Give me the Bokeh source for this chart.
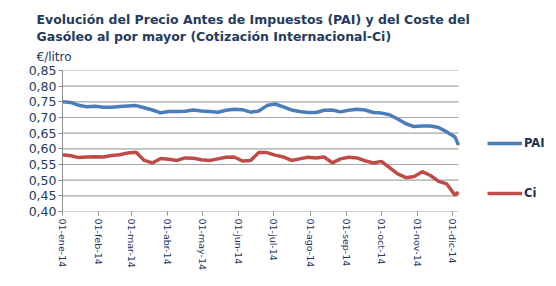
import datetime as dt
from bokeh.plotting import figure
from bokeh.models import (ColumnDataSource, Range1d, FixedTicker, CustomJSTickFormatter,
                          Title, Legend, LegendItem)
from bokeh.embed import file_html
from bokeh.resources import INLINE

# ---- data ----
start = dt.datetime(2014, 1, 1)
dates = [start + dt.timedelta(days=7 * k) for k in range(49)] + [dt.datetime(2014, 12, 6)]

pai = [0.750, 0.748, 0.739, 0.734, 0.736, 0.733, 0.733, 0.735, 0.737, 0.738,
       0.731, 0.724, 0.715, 0.719, 0.719, 0.720, 0.724, 0.721, 0.719, 0.717,
       0.723, 0.726, 0.725, 0.717, 0.721, 0.738, 0.743, 0.734, 0.724, 0.719,
       0.716, 0.716, 0.723, 0.724, 0.718, 0.723, 0.726, 0.724, 0.716, 0.714,
       0.709, 0.695, 0.680, 0.671, 0.673, 0.673, 0.668, 0.654, 0.638, 0.612]

ci = [0.581, 0.578, 0.572, 0.574, 0.575, 0.574, 0.579, 0.581, 0.587, 0.589,
      0.563, 0.555, 0.569, 0.567, 0.563, 0.571, 0.570, 0.565, 0.563, 0.568,
      0.573, 0.574, 0.561, 0.563, 0.588, 0.588, 0.580, 0.574, 0.563, 0.568,
      0.573, 0.571, 0.574, 0.555, 0.568, 0.573, 0.571, 0.562, 0.555, 0.560,
      0.540, 0.520, 0.508, 0.512, 0.527, 0.515, 0.496, 0.488, 0.452, 0.462]

tick_dates = [dt.datetime(2014, m, 1) for m in range(1, 13)]
tick_labels = ["01-ene-14", "01-feb-14", "01-mar-14", "01-abr-14", "01-may-14", "01-jun-14",
               "01-jul-14", "01-ago-14", "01-sep-14", "01-oct-14", "01-nov-14", "01-dic-14"]
y_ticks = [0.40, 0.45, 0.50, 0.55, 0.60, 0.65, 0.70, 0.75, 0.80, 0.85]

title1 = "Evolución del Precio Antes de Impuestos (PAI) y del Coste del"
title2 = "Gasóleo al por mayor (Cotización Internacional-Ci)"
unit_label = "€/litro"

# ---- figure ----
def ms(d):
    return (d - dt.datetime(1970, 1, 1)).total_seconds() * 1000.0

x_start = dt.datetime(2014, 1, 1)
x_end = dt.datetime(2014, 12, 6)          # end of the plotted axis
plot_px = 396.0                           # width of the drawn axis area
frame_px = 556.0 - 62.0                   # frame extends under the legend
span_ms = ms(x_end) - ms(x_start)
view_end = ms(x_start) + span_ms * frame_px / plot_px

src = ColumnDataSource(dict(x=dates, pai=pai, ci=ci))

p = figure(width=556, height=286, output_backend="svg", toolbar_location=None,
           x_axis_type="datetime",
           x_range=Range1d(ms(x_start), view_end),
           y_range=Range1d(0.40, 0.85),
           min_border_left=62, min_border_right=0, min_border_bottom=75, min_border_top=70)
p.border_fill_color = None
p.background_fill_color = None

text_color = "#1F3864"
title_color = "#243B5E"

p.add_layout(Title(text=unit_label, text_font="DejaVu Sans", text_font_size="12px",
                   text_font_style="normal", text_color=text_color, align="left",
                   offset=-26, standoff=14), "above")
p.add_layout(Title(text=title2, text_font="DejaVu Sans", text_font_size="12.5px",
                   text_font_style="bold", text_color=title_color, align="left",
                   offset=-26, standoff=-6), "above")
p.add_layout(Title(text=title1, text_font="DejaVu Sans", text_font_size="12.5px",
                   text_font_style="bold", text_color=title_color, align="left",
                   offset=-26, standoff=5), "above")

# horizontal gridlines limited to the axis span
p.segment(x0=[x_start] * len(y_ticks), x1=[x_end] * len(y_ticks), y0=y_ticks, y1=y_ticks,
          line_color="#A6A6A6", line_width=1.2)

r1 = p.line("x", "pai", source=src, line_color="#4A7EBB", line_width=3.5)
r2 = p.line("x", "ci", source=src, line_color="#BE4B48", line_width=3.5)

# axes
p.xaxis.ticker = FixedTicker(ticks=[ms(d) for d in tick_dates])
p.xaxis.formatter = CustomJSTickFormatter(
    args=dict(tvals=[ms(d) for d in tick_dates], labels=tick_labels),
    code="""
    let best = 0; let bd = Infinity;
    for (let i = 0; i < tvals.length; i++) {
        const dd = Math.abs(tvals[i] - tick);
        if (dd < bd) { bd = dd; best = i; }
    }
    return labels[best];
    """)
p.xaxis.major_label_orientation = "vertical"
p.xaxis.major_label_text_font = "DejaVu Sans"
p.xaxis.major_label_text_font_size = "9.5px"
p.xaxis.major_label_text_color = text_color
p.xaxis.major_tick_out = 4
p.xaxis.major_tick_in = 0
p.xaxis.minor_tick_line_color = None
p.xaxis.major_label_standoff = 3
p.xaxis.axis_line_color = None
p.xaxis.major_tick_line_color = "#8C8C8C"

p.yaxis.ticker = FixedTicker(ticks=y_ticks)
p.yaxis.formatter = CustomJSTickFormatter(code="return tick.toFixed(2).replace('.', ',');")
p.yaxis.major_label_text_font = "DejaVu Sans"
p.yaxis.major_label_text_font_size = "12.5px"
p.yaxis.major_label_text_color = text_color
p.yaxis.major_tick_out = 4
p.yaxis.major_tick_in = 0
p.yaxis.minor_tick_line_color = None
p.yaxis.major_label_standoff = 2
p.yaxis.axis_line_color = "#8C8C8C"
p.yaxis.major_tick_line_color = "#8C8C8C"

p.xgrid.grid_line_color = None
p.ygrid.grid_line_color = None
p.outline_line_color = None

legend = Legend(items=[LegendItem(label="PAI", renderers=[r1]),
                       LegendItem(label="Ci", renderers=[r2])],
                location=(425, 8), orientation="vertical",
                glyph_width=35, glyph_height=20, label_height=20, spacing=30,
                padding=0, margin=0, label_standoff=2,
                label_text_font="DejaVu Sans", label_text_font_style="bold",
                label_text_font_size="11.5px", label_text_color="#1F2F4F",
                background_fill_alpha=0, border_line_color=None)
p.add_layout(legend, "center")

open("out.html", "w").write(file_html(p, INLINE))
